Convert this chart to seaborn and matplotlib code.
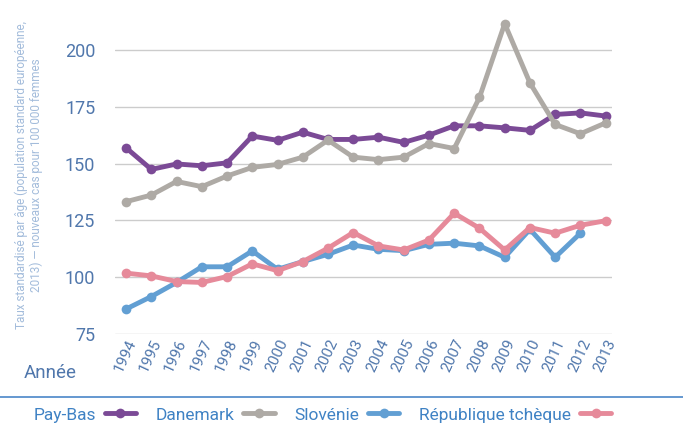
import numpy as np
import pandas as pd
import matplotlib
matplotlib.use("Agg")
import matplotlib.pyplot as plt
import seaborn as sns
from matplotlib.lines import Line2D

years = list(range(1994, 2014))
pays_bas = [157.0, 147.5, 149.9, 149.1, 150.4, 162.2, 160.3, 163.9, 160.7, 160.7,
            161.7, 159.4, 162.6, 166.7, 166.7, 165.8, 164.7, 171.7, 172.4, 171.0]
danemark = [133.3, 136.2, 142.2, 139.9, 144.6, 148.4, 149.7, 152.9, 160.4, 152.9,
            151.8, 152.9, 158.9, 156.7, 179.2, 211.7, 185.6, 167.3, 163.2, 168.0]
slovenie = [86.0, 91.5, 97.7, 104.6, 104.6, 111.6, 103.5, 106.9, 110.1, 114.2,
            112.3, 111.7, 114.5, 115.0, 113.8, 108.8, 121.1, 108.8, 119.4, np.nan]
rep_tcheque = [101.8, 100.6, 98.1, 97.7, 100.3, 105.9, 102.9, 106.9, 112.8, 119.7,
               113.8, 112.0, 116.4, 128.2, 121.6, 112.0, 121.9, 119.4, 122.9, 124.9]

series_names = ["Pay-Bas", "Danemark", "Slovénie", "République tchèque"]
series_vals = [pays_bas, danemark, slovenie, rep_tcheque]
colors = ["#7b4a96", "#aeaaa5", "#629fd3", "#e68a9a"]
yticks = [75, 100, 125, 150, 175, 200]

sns.set_style("white")
plt.rcParams["font.family"] = ["Roboto", "DejaVu Sans"]

tick_col = "#5077ac"
fig = plt.figure(figsize=(6.83, 4.26), dpi=100)
ax = fig.add_axes([0.168, 0.216, 0.728, 0.746])

for name, vals, c in zip(series_names, series_vals, colors):
    df = pd.DataFrame({"x": np.arange(len(years)), "y": vals})
    sns.lineplot(data=df, x="x", y="y", ax=ax, color=c, linewidth=2.4,
                 marker="o", markersize=7, markeredgewidth=0, label=name)

ax.set_xlim(-0.45, 19.25)
ax.set_ylim(75, 215)
ax.set_yticks(yticks)
ax.set_xticks(np.arange(len(years)))
ax.set_xticklabels([str(y) for y in years], rotation=65, ha="right",
                   rotation_mode="anchor", fontsize=11, color=tick_col)
ax.tick_params(axis="y", labelsize=13, labelcolor=tick_col, length=0, pad=14)
ax.tick_params(axis="x", length=0, pad=2)
ax.yaxis.grid(True, color="#cccccc", linewidth=1)
ax.xaxis.grid(False)
for s in ax.spines.values():
    s.set_visible(False)
ax.set_xlabel("")
ax.set_ylabel("Taux standardisé par âge (population standard européenne,\n2013) — nouveaux cas pour 100 000 femmes",
              fontsize=8.5, color="#a3bcdb", linespacing=1.1)
ax.yaxis.set_label_coords(-0.145, 0.5)
ax.get_legend().remove()

fig.text(0.035, 0.125, "Année", fontsize=13.5, color=tick_col, va="center")
fig.add_artist(Line2D([0, 1], [0.068, 0.068], color="#4a86c8", linewidth=1.2,
                      transform=fig.transFigure))

handles, labels = ax.get_legend_handles_labels()
for h in handles:
    h.set_linewidth(3.5)
leg = fig.legend(handles, labels, loc="center", bbox_to_anchor=(0.472, 0.026),
                 ncol=4, frameon=False, markerfirst=False, fontsize=12.5,
                 handlelength=1.8, columnspacing=1.15, handletextpad=0.5)
for t in leg.get_texts():
    t.set_color("#3f82c4")

fig.savefig("out.png", dpi=100)
